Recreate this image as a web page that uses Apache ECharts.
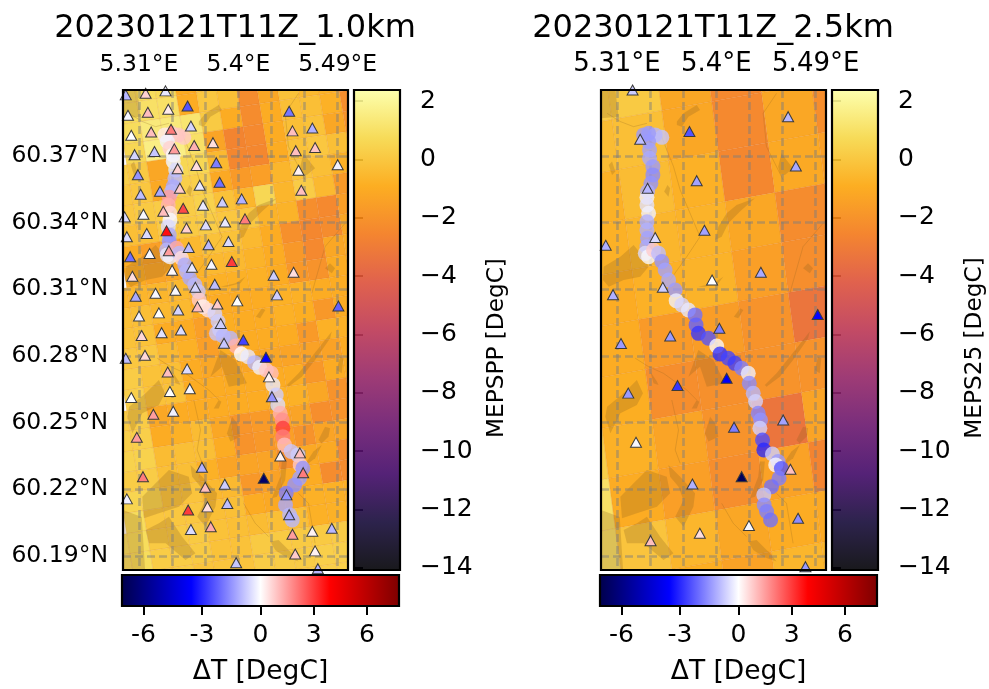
<!DOCTYPE html>
<html><head><meta charset="utf-8">
<style>html,body{margin:0;padding:0;background:#fff}#c{width:989px;height:689px}</style>
<script src="https://cdn.jsdelivr.net/npm/echarts@6/dist/echarts.min.js"></script>
</head><body><div id="c"></div>
<script>
const titles=['20230121T11Z_1.0km','20230121T11Z_2.5km'];
const cbarNames=['MEPSPP [DegC]','MEPS25 [DegC]'];
const deltaName='ΔT [DegC]';
const lonGrid=[5.31,5.34,5.37,5.40,5.43,5.46,5.49];
const lonLabels=[5.31,5.40,5.49];
const latGrid=[60.19,60.22,60.25,60.28,60.31,60.34,60.37];
const tempTicks=[-14,-12,-10,-8,-6,-4,-2,0,2];
const deltaTicks=[-6,-3,0,3,6];
const lonRange=[5.2955,5.4993], latRange=[60.1837,60.3997];
const tempRange=[-14.07,2.38], deltaRange=[-7.1,7.8];

const stLon1=[5.298,5.316,5.334,5.354,5.3365,5.318,5.300,5.446,5.357,5.339,5.321,5.303,5.449,5.467,5.377,5.360,5.342,5.324,5.306,5.452,5.4695,5.380,5.362,5.345,5.309,5.490,5.4545,5.383,5.365,5.347,5.329,5.3115,5.457,5.403,5.3855,5.368,5.350,5.332,5.314,5.297,5.406,5.388,5.3705,5.353,5.335,5.317,5.299,5.391,5.373,5.355,5.337,5.3196,5.302,5.394,5.3756,5.358,5.340,5.304,5.450,5.432,5.3786,5.361,5.343,5.325,5.307,5.435,5.399,5.381,5.363,5.3455,5.328,5.310,5.4906,5.384,5.3124,5.3305,5.348,5.4045,5.387,5.298,5.3154,5.425,5.4277,5.336,5.3536,5.4304,5.338,5.356,5.303,5.341,5.323,5.308,5.438,5.4557,5.367,5.4587,5.3136,5.423,5.3877,5.370,5.299,5.4436,5.390,5.372,5.3545,5.446,5.357,5.375,5.467,5.4846,5.449,5.4695,5.4515,5.398,5.472];
const stLat1=[60.3975,60.3982,60.3993,60.3925,60.391,60.3897,60.3883,60.3901,60.3835,60.382,60.3808,60.3793,60.3813,60.3826,60.376,60.3747,60.3732,60.372,60.3706,60.3724,60.3738,60.367,60.3657,60.3643,60.3616,60.3661,60.3636,60.3582,60.3568,60.3555,60.3541,60.3528,60.3546,60.3507,60.3493,60.3478,60.3465,60.3451,60.3438,60.3426,60.3417,60.3403,60.3390,60.3376,60.3363,60.3351,60.3337,60.3315,60.3301,60.3288,60.3274,60.3261,60.3247,60.3225,60.3213,60.3199,60.3186,60.3159,60.3177,60.3163,60.3123,60.3109,60.3096,60.3082,60.3069,60.3075,60.3048,60.3034,60.3021,60.3007,60.2994,60.298,60.3025,60.2946,60.2892,60.2905,60.2917,60.2872,60.2857,60.2790,60.2803,60.2794,60.2706,60.2728,60.2742,60.2617,60.2640,60.2653,60.2613,60.2551,60.2538,60.2434,60.235,60.2364,60.2299,60.2275,60.2257,60.225,60.2223,60.2209,60.2157,60.2175,60.2136,60.2121,60.2107,60.2086,60.2019,60.2032,60.2011,60.2025,60.1998,60.1923,60.1909,60.187,60.1843];
const stDT1=[-1.0,0.7,-0.3,-2.4,0.3,1.0,-0.1,-1.9,-0.6,2.0,1.0,0.0,1.0,-1.1,0.5,1.2,1.5,-0.8,-0.6,1.0,0.9,-1.8,0.5,0.7,-1.5,-0.2,0.2,-2.0,-0.3,0.8,-1.2,-0.9,1.0,-1.1,-0.7,-0.3,2.8,1.0,-0.1,-0.5,2.0,-0.3,-0.5,0.7,3.7,-0.5,-0.5,-0.5,-1.0,-0.9,1.5,-0.1,-2.0,3.0,-0.1,-0.3,0.1,0.5,0.5,-0.7,-0.9,-0.6,-0.1,-0.1,-1.2,-0.7,0.0,0.8,1.0,-0.6,0.0,-0.2,-2.2,-0.7,0.6,-0.4,-0.5,-2.6,-0.8,-0.9,0.6,-3.5,0.2,1.0,-0.5,-1.5,0.0,-0.1,0.0,-0.2,1.5,1.5,0.2,1.0,-1.1,2.0,2.0,-6.5,-0.7,1.0,-0.2,-1.5,-0.9,0.5,3.0,-1.2,-0.5,1.3,0.2,-1.0,1.5,0.2,0.8,-0.8,-1.0];

const trLon1=[5.3506,5.3455,5.3395,5.3335,5.3356,5.338,5.341,5.341,5.3434,5.3425,5.341,5.3395,5.3374,5.3365,5.338,5.338,5.3365,5.3374,5.3374,5.335,5.3356,5.338,5.344,5.3464,5.3485,5.3515,5.353,5.356,5.3606,5.3636,5.3645,5.368,5.3726,5.3786,5.3816,5.3831,5.3801,5.3862,5.3928,5.3976,5.4027,5.4087,5.4147,5.4193,5.4253,5.4298,5.4313,5.4343,5.4358,5.4379,5.4397,5.4403,5.4403,5.4418,5.4478,5.4539,5.456,5.4584,5.4554,5.4509,5.4433,5.4427,5.4464,5.4488];
const trLat1=[60.3784,60.3795,60.3802,60.3795,60.3765,60.3735,60.3705,60.3675,60.3637,60.36,60.3562,60.354,60.3514,60.3479,60.3442,60.3412,60.3382,60.3345,60.3315,60.3277,60.3255,60.3247,60.3285,60.3262,60.324,60.321,60.318,60.315,60.312,60.309,60.3052,60.3022,60.3007,60.2992,60.2955,60.2917,60.2902,60.289,60.288,60.2845,60.2809,60.2797,60.277,60.2749,60.2737,60.2722,60.267,60.2625,60.258,60.2542,60.2512,60.2475,60.2437,60.24,60.237,60.2355,60.231,60.2295,60.225,60.222,60.2182,60.213,60.2085,60.2062];
const trDT1=[0.8,0.9,0.8,0.3,-0.2,0.7,-0.1,-0.2,-0.5,-1.0,-1.2,-1.0,1.5,1.2,0.5,-0.1,-0.5,-1.2,-1.5,-1.0,-0.3,-0.2,1.3,-1.0,0.5,-1.2,-1.0,-1.2,-1.0,-0.8,0.8,0.2,0.5,-0.6,-0.7,-0.5,-0.8,-1.0,-1.0,1.2,0.0,-0.3,-1.0,-0.2,0.8,1.0,-0.3,-0.7,-0.5,1.2,1.7,3.0,2.0,1.0,-0.8,-0.7,0.8,-1.5,-1.3,-1.5,-1.8,-1.2,-1.0,-1.0];

const stLon2=[5.3241,5.3756,5.465,5.331,5.472,5.3822,5.3377,5.3892,5.3446,5.2998,5.4403,5.3961,5.3515,5.3064,5.4918,5.4027,5.3582,5.3136,5.4093,5.3648,5.3202,5.4605,5.416,5.3272,5.4671,5.4229,5.3783,5.474,5.4295,5.385,5.3404,5.4807];
const stLat2=[60.3997,60.3810,60.3877,60.3775,60.3655,60.3589,60.3555,60.3366,60.3333,60.3298,60.3177,60.3142,60.3109,60.3076,60.2987,60.2925,60.289,60.2856,60.27,60.2667,60.2633,60.2512,60.2479,60.2412,60.229,60.2257,60.2224,60.207,60.2037,60.2002,60.1969,60.1852];
const stDT2=[-0.7,-2.4,-1.0,-0.9,-1.2,-1.3,-1.0,-1.3,-0.5,-1.1,-1.2,0.0,-0.7,-1.1,-3.5,-1.8,-1.4,-1.4,-3.6,-2.8,-1.4,-1.3,-1.8,-0.1,1.0,-6.8,-1.1,-1.6,-0.1,0.5,1.0,-1.4];

const trLon2=[5.3506,5.3446,5.3386,5.3341,5.3386,5.3395,5.3395,5.3425,5.3425,5.3407,5.3377,5.3371,5.3371,5.3386,5.3371,5.3371,5.3377,5.3371,5.3356,5.3386,5.3431,5.3476,5.3506,5.3536,5.3567,5.3627,5.3636,5.3687,5.3747,5.3807,5.3816,5.3837,5.3928,5.4003,5.4033,5.4108,5.4168,5.4229,5.4289,5.4298,5.4334,5.4355,5.4379,5.44,5.4394,5.4418,5.443,5.4508,5.4559,5.4538,5.4589,5.4568,5.4499,5.443,5.4433,5.4455,5.4491];
const trLat2=[60.3784,60.3795,60.3802,60.3795,60.3765,60.3727,60.369,60.3652,60.3615,60.3577,60.354,60.3514,60.3479,60.3442,60.3404,60.3367,60.333,60.3292,60.3262,60.3247,60.3277,60.3262,60.3225,60.3187,60.3142,60.3097,60.3049,60.303,60.3007,60.2985,60.294,60.2902,60.288,60.2845,60.2809,60.279,60.2767,60.2745,60.2722,60.2677,60.2632,60.2595,60.2542,60.2512,60.2475,60.2422,60.2377,60.2359,60.2325,60.231,60.2294,60.225,60.2212,60.2175,60.213,60.21,60.2062];
const trDT2=[-0.8,-1.0,-1.4,-1.4,-1.4,-1.3,-1.2,-1.4,-1.6,-1.5,-1.2,-0.2,-0.4,-0.2,-1.1,-1.1,-1.3,-1.2,-0.5,-0.1,0.8,-0.9,-1.5,-1.3,-1.2,-1.4,-0.2,-0.6,-0.3,-2.0,-2.2,-2.8,-2.4,-0.1,-2.9,-2.6,-2.7,-1.8,-0.2,-1.6,-1.0,-0.6,-1.7,-1.5,-0.6,-2.5,-3.0,-0.7,-1.4,-0.1,-2.4,-1.8,-2.0,-0.8,-1.6,-1.8,-2.0];

// 1 km model field, rows north to south
const cells1=[
[0.9,0.8,0.7,-1,0,-0.3,-2.3,-1.2,-0.2,-0.5,-0.7,-2.2,-1],
[0.8,1.0,1.0,-1,0,-0.3,-2.3,-1.2,-0.2,-0.5,-0.7,-2.2,-1],
[0.8,1.4,1.4,1.2,0.1,-1,-2.3,-1,-0.3,-0.3,-0.8,-2.2,-1],
[0.6,1.6,1.6,1.0,-1.3,-2.6,-2.4,-1,-0.3,-0.2,-1.2,-2,-1],
[0.3,0.1,-1.2,0.6,0.6,-0.5,-2.5,-2.5,-1,-0.2,0,-0.3,-1],
[0,0,-1.1,0.3,0.3,-1.1,-1.7,-1.5,-0.6,-0.1,-0.3,-0.8,-1],
[0,0.1,0.2,0.2,0.4,-0.2,-0.6,0.6,-0.6,0.2,-0.5,-1.7,-1],
[-0.3,-0.3,0.1,0.1,0.2,0,0,-0.7,-0.7,-2.2,-2.4,-1.5,-1],
[-1,-1.5,-1.3,-0.5,-0.2,-0.2,-0.5,-1,-2.1,-2.5,-2.3,-1.2,-1],
[-1,-1.3,-1.2,-0.7,-0.5,-0.5,-0.7,-1,-1.8,-2.4,-1.2,-1,-1],
[-0.6,-0.6,-0.6,-0.5,-0.8,-0.8,-0.8,-0.8,-1,-1.8,-2,-1,-1],
[-0.3,-0.3,-0.5,-0.5,-1,-1,-1,-1,-0.8,-0.8,-1,-1,-1],
[-0.2,-0.2,-1,-1,-1.5,-0.9,-1,-1,-0.8,-0.9,-1.8,-1,-1],
[0,0,-0.5,-0.8,-1.5,-0.9,-1,-1,-1,-1.7,-0.8,-0.8,-1],
[0.2,-0.2,-0.3,-1,-1.2,-1.2,-1.2,-1.2,-1.3,-1.4,-1.4,-1,-1],
[0.3,-0.2,-0.2,-1,-1,-1,-1,-1,-1,-1.8,-1,-1,-1],
[0.2,0.2,-1.2,-1,-1,-1,-1,-1,-0.8,-0.8,-1.2,-2,-2],
[0.3,0.3,-1,-0.8,-0.4,-1.2,-1.9,-1.7,-1.3,-1.3,-2.2,-2,-2],
[0.4,0.4,-0.4,-0.3,-0.3,-1,-2,-1.8,-1.5,-2,-1.3,-1.3,-1.3],
[0.2,0.2,-0.3,-0.3,-0.8,-1.3,-1.3,-1.3,-2.2,-1.1,-1.1,-2.3,-2.3],
[0.5,0.5,-0.1,-0.1,-0.5,-0.5,-1.8,-1.4,-1.1,-1,-2.3,-2.3,-2],
[0.8,0,0,0,-0.3,-0.3,-1,-1.1,-1.1,-0.8,-0.8,-0.8,-0.8],
[1.0,0.8,0.1,0.1,0.1,-0.2,-0.3,-0.4,-0.3,-0.3,-0.8,-0.8,-0.8],
[1.0,0.8,0.2,0.2,0.1,-0.2,-0.2,0.1,0.1,0.1,0.1,0.2,0.2],
[1.0,1.0,0.2,0.2,-0.1,-0.1,-0.1,0.2,0.2,0.2,0.3,0.3,0.3],
[1.0,1.0,0.2,0.2,-0.1,-0.1,-0.1,0.2,0.2,0.2,0.3,0.3,0.3],
[1.0,1.0,0.2,0.2,-0.1,-0.1,-0.1,0.2,0.2,0.2,0.3,0.3,0.3]];
// 2.5 km model field
const cells2=[
[0.3,0.2,0.1,-1.2,-2.4,-1.2,-2.2],
[-0.5,-0.4,-0.3,-1.2,-2.4,-1.2,-2.2],
[-0.8,-0.8,-0.4,-0.8,-2.5,-1.1,-1.5],
[-0.6,-0.8,-0.6,-0.7,-1.2,-2.3,-2.3],
[-0.5,-1,-0.8,-0.7,-1.5,-2.2,-2.3],
[-0.5,-1,-1.7,-1.6,-2,-3.3,-2.5],
[-0.5,-0.9,-2.2,-2.1,-2,-2,-2],
[0.3,-0.8,-1.3,-2.0,-3.3,-1.3,-1.3],
[1.0,-1.0,-1.5,-2.2,-1.4,-2.6,-2],
[1.1,-0.1,-0.6,-1.2,-1.0,-1.1,-1],
[1.1,-0.1,-0.9,-1.4,-0.6,-0.6,-0.6]];
// model grid geometry in degrees: anchor corner, east step, south step
const mesh1={lon0:5.4012,lat0:60.3922,iLon:0.01806,iLat:0.00135,jLon:0.00301,jLat:-0.009};
const mesh2={lon0:5.4018,lat0:60.372,iLon:0.04515,iLat:0.00405,jLon:0.00602,jLat:-0.0225};

const lakes=[
[5.3642,60.3855,5.3702,60.3892,5.3822,60.393,5.3852,60.3907,5.3747,60.3877,5.3687,60.3832,5.3642,60.3840],
[5.456,60.3652,5.459,60.3712,5.4635,60.3682,5.4695,60.3645,5.462,60.3615,5.4575,60.3622],
[5.3988,60.3322,5.4018,60.3382,5.4093,60.3442,5.4183,60.3480,5.4349,60.351,5.4214,60.345,5.4108,60.3397,5.4048,60.3337],
[5.4785,60.3195,5.483,60.3217,5.4876,60.3195,5.4846,60.3172],
[5.2979,60.3202,5.313,60.3247,5.325,60.33,5.334,60.3247,5.3386,60.3202,5.331,60.3157,5.316,60.3142,5.3025,60.3112,5.2973,60.3142],
[5.3837,60.3112,5.3973,60.3127,5.4063,60.3157,5.4018,60.3127,5.3897,60.3112],
[5.4159,60.2977,5.4214,60.3015,5.4244,60.3007,5.4198,60.297],
[5.3527,60.3540,5.3557,60.357,5.3581,60.3555,5.3566,60.3517],
[5.3025,60.3660,5.3055,60.3675,5.3085,60.363,5.3055,60.3615],
[5.2955,60.3997,5.3085,60.3997,5.3115,60.3877,5.2955,60.387],
[5.2955,60.2107,5.3125,60.2075,5.3155,60.1837,5.2955,60.1837],
[5.313,60.2167,5.325,60.2227,5.3371,60.2287,5.3551,60.2257,5.3581,60.2182,5.3461,60.2122,5.328,60.2092,5.3145,60.207],
[5.316,60.2017,5.328,60.2047,5.3371,60.2077,5.3491,60.1987,5.3611,60.1912,5.3521,60.1882,5.3341,60.1957,5.319,60.1957],
[5.3566,60.2310,5.3672,60.2257,5.3807,60.2182,5.3792,60.2122,5.3702,60.2032,5.3627,60.2077,5.3702,60.2152,5.3657,60.2212,5.3581,60.2257],
[5.3010,60.2572,5.316,60.2632,5.328,60.2692,5.3335,60.2632,5.328,60.258,5.313,60.2542,5.304,60.2452,5.2994,60.2527],
[5.3837,60.2827,5.3973,60.2782,5.4078,60.2677,5.3913,60.2662,5.3852,60.2752,5.3747,60.2707,5.3792,60.2767],
[5.3943,60.2527,5.3988,60.2497,5.4018,60.2437,5.3928,60.2415,5.3897,60.2452],
[5.4439,60.2669,5.4545,60.2722,5.4665,60.2797,5.4846,60.2910,5.4831,60.288,5.4695,60.2782,5.4575,60.2707,5.4454,60.2662],
[5.4725,60.2422,5.4785,60.2482,5.4831,60.2475,5.4816,60.2437,5.4755,60.2407],
[5.4304,60.2160,5.4379,60.2257,5.4394,60.2325,5.4439,60.2325,5.4424,60.2242,5.4349,60.2167],
[5.462,60.2325,5.468,60.237,5.4755,60.24,5.4695,60.234,5.4635,60.2317],
[5.4891,60.2737,5.4921,60.2797,5.4951,60.2790,5.4936,60.2722],
[5.4289,60.1965,5.4364,60.1972,5.4485,60.1912,5.4545,60.1875,5.4424,60.1897,5.4334,60.1927],
[5.3401,60.273,5.3461,60.2685,5.3476,60.2669,5.3431,60.2677],
[5.3777,60.2564,5.3822,60.2602,5.3846,60.2594,5.3822,60.2564]];
const roads=[
[5.3265,60.2790,5.3386,60.2752,5.3521,60.2722,5.3732,60.2647,5.3822,60.2602],
[5.3596,60.2602,5.3657,60.2467,5.3627,60.2377,5.3672,60.2317],
[5.4048,60.2137,5.4153,60.2047,5.4274,60.1987],
[5.3371,60.3847,5.3250,60.3832,5.3130,60.3855,5.3010,60.3892],
[5.3491,60.3802,5.3612,60.3652,5.3672,60.3547,5.3762,60.3442,5.3852,60.3337,5.3732,60.3247,5.3581,60.3142],
[5.4605,60.3592,5.4454,60.3742,5.4424,60.3892,5.4545,60.3982],
[5.4665,60.3082,5.4785,60.3292,5.4966,60.3397],
[5.4695,60.1957,5.4635,60.2137,5.4545,60.2182]];

const FONT='"DejaVu Sans"';
const inferno=['#000004','#160b39','#420a68','#6a176e','#932667','#bc3754','#dd513a','#f37819','#fca50a','#f6d746','#fcffa4'];
const seismic=['#00004c','#0000ff','#ffffff','#ff0000','#7f0000'];
const hex=h=>[1,3,5].map(k=>parseInt(h.substr(k,2),16));
function ramp(list,t){t=Math.max(0,Math.min(1,t));const p=t*(list.length-1),k=Math.min(Math.floor(p),list.length-2),f=p-k;
  const a=hex(list[k]),b=hex(list[k+1]);return a.map((x,n)=>Math.round(x+(b[n]-x)*f));}
const tempColor=v=>{const c=ramp(inferno,(v-tempRange[0])/(tempRange[1]-tempRange[0]));return `rgba(${c[0]},${c[1]},${c[2]},0.9)`;};
const normDelta=v=>v<0?0.5*(v-deltaRange[0])/(-deltaRange[0]):0.5+0.5*v/deltaRange[1];
const deltaColor=v=>{const c=ramp(seismic,normDelta(v));return `rgb(${c[0]},${c[1]},${c[2]})`;};
const minus=v=>String(v).replace('-','\u2212');

const GRIDS=[
 {left:123,top:90,width:225,height:480},{left:601,top:90,width:225,height:480},
 {left:354,top:90,width:46,height:480},{left:832,top:90,width:46,height:480},
 {left:122,top:575,width:277,height:31},{left:600,top:575,width:277,height:31}];

const frameSeries=g=>({type:'custom',xAxisIndex:g,yAxisIndex:g,z:10,silent:true,clip:false,data:[[0,0]],
  renderItem:(p,api)=>({type:'rect',shape:{x:p.coordSys.x,y:p.coordSys.y,width:p.coordSys.width,height:p.coordSys.height},
    style:{fill:'none',stroke:'#000',lineWidth:2.2}})});
function cellSeries(g,mesh,rows){
  const data=[];rows.forEach((r,n)=>r.forEach((v,c)=>data.push([n,c,v])));
  const first=g===0?(j=>-7-Math.floor((j-2)/6)):(()=>-4);
  const j0=-2;
  return {type:'custom',xAxisIndex:g,yAxisIndex:g,z:0,silent:true,clip:true,data,encode:{x:[],y:[]},
    renderItem:(p,api)=>{
      const n=api.value(0),c=api.value(1),v=api.value(2),j=n+j0,i=first(j)+c;
      const pt=(a,b)=>api.coord([mesh.lon0+a*mesh.iLon+b*mesh.jLon,mesh.lat0+a*mesh.iLat+b*mesh.jLat]);
      const col=tempColor(v);
      return {type:'polygon',shape:{points:[pt(i,j),pt(i+1,j),pt(i+1,j+1),pt(i,j+1)]},style:{fill:col,stroke:'rgba(200,90,30,0.18)',lineWidth:0.6}};
    }};
}
const lakeSeries=g=>({type:'custom',xAxisIndex:g,yAxisIndex:g,z:0.5,silent:true,clip:true,data:lakes.map((l,k)=>[k,0]),encode:{x:[],y:[]},
  renderItem:(p,api)=>{const l=lakes[api.value(0)],pts=[];for(let k=0;k<l.length;k+=2)pts.push(api.coord([l[k],l[k+1]]));
    return {type:'polygon',shape:{points:pts},style:{fill:'rgba(140,95,30,0.26)'}};}});
const roadSeries=g=>({type:'custom',xAxisIndex:g,yAxisIndex:g,z:0.6,silent:true,clip:true,data:roads.map((l,k)=>[k,0]),encode:{x:[],y:[]},
  renderItem:(p,api)=>{const l=roads[api.value(0)],pts=[];for(let k=0;k<l.length;k+=2)pts.push(api.coord([l[k],l[k+1]]));
    return {type:'polyline',shape:{points:pts},style:{fill:'none',stroke:'rgba(140,95,30,0.3)',lineWidth:0.8}};}});
const trackSeries=(g,lon,lat,dt)=>({type:'scatter',xAxisIndex:g,yAxisIndex:g,z:3,silent:true,symbol:'circle',symbolSize:15,
  data:lon.map((x,k)=>[x,lat[k],dt[k]]),itemStyle:{opacity:0.78,color:p=>deltaColor(p.value[2])}});
const stationSeries=(g,lon,lat,dt)=>({type:'scatter',xAxisIndex:g,yAxisIndex:g,z:4,silent:true,symbol:'triangle',symbolSize:[11,10],
  data:lon.map((x,k)=>[x,lat[k],dt[k]]),itemStyle:{opacity:1,color:p=>deltaColor(p.value[2]),borderColor:'#3a3a3a',borderWidth:1}});
const tempBar=g=>({type:'custom',xAxisIndex:g,yAxisIndex:g,z:1,silent:true,data:[[0,tempRange[0]]],encode:{x:[],y:[]},
  renderItem:(p,api)=>{const a=api.coord([0,tempRange[1]]),b=api.coord([1,tempRange[0]]);
    return {type:'rect',shape:{x:a[0],y:a[1],width:b[0]-a[0],height:b[1]-a[1]},
      style:{fill:new echarts.graphic.LinearGradient(0,1,0,0,inferno.map((c,k)=>({offset:k/(inferno.length-1),color:(h=>`rgba(${h[0]},${h[1]},${h[2]},0.9)`)(hex(c))})))}};}});
const deltaBar=g=>({type:'custom',xAxisIndex:g,yAxisIndex:g,z:1,silent:true,data:[[0,0]],encode:{x:[],y:[]},
  renderItem:(p,api)=>{const a=api.coord([0,1]),b=api.coord([1,0]);
    return {type:'rect',shape:{x:a[0],y:a[1],width:b[0]-a[0],height:b[1]-a[1]},
      style:{fill:new echarts.graphic.LinearGradient(0,0,1,0,seismic.map((c,k)=>({offset:k/(seismic.length-1),color:c})))}};}});

const label={fontFamily:FONT,fontSize:23.5,color:'#000'};
const barLabel={fontFamily:FONT,fontSize:25,color:'#000'};
const nameStyle={fontFamily:FONT,fontSize:23.2,color:'#000'};
const hiddenAxis=(idx,range)=>({type:'value',gridIndex:idx,min:range[0],max:range[1],show:false,splitLine:{show:false}});
const gridLine={show:true,lineStyle:{color:'rgba(125,125,125,0.5)',width:2.6,type:[8,4]}};
const xAxis=[0,1].map(g=>({type:'value',gridIndex:g,position:'top',min:lonRange[0],max:lonRange[1],z:1,
    axisLine:{show:false},axisTick:{show:false,customValues:lonGrid},splitLine:gridLine,
    axisLabel:{...label,fontSize:g===1?26:23.5,margin:13,customValues:lonLabels,formatter:v=>{const s=String(Math.round(v*100)/100);return s+'°E';}}}))
  .concat([hiddenAxis(2,[0,1]),hiddenAxis(3,[0,1])])
  .concat([4,5].map(g=>({type:'value',gridIndex:g,position:'bottom',min:0,max:1,nameLocation:'middle',name:deltaName,nameGap:53,nameTextStyle:{...nameStyle,fontSize:26.5},
    axisLine:{show:false},splitLine:{show:false},
    axisTick:{show:true,length:9,customValues:deltaTicks.map(normDelta),lineStyle:{color:'#000',width:2}},
    axisLabel:{...barLabel,margin:17,customValues:deltaTicks.map(normDelta),formatter:(v)=>{let b=deltaTicks[0];deltaTicks.forEach(t=>{if(Math.abs(normDelta(t)-v)<Math.abs(normDelta(b)-v))b=t;});return String(b);}}})));
const yAxis=[0,1].map(g=>({type:'value',gridIndex:g,position:'left',min:latRange[0],max:latRange[1],z:1,
    axisLine:{show:false},axisTick:{show:false,customValues:latGrid},splitLine:gridLine,
    axisLabel:{...label,show:g===0,margin:15,padding:[0,0,5,0],customValues:latGrid,formatter:v=>v.toFixed(2)+'°N'}}))
  .concat([2,3].map(g=>({type:'value',gridIndex:g,position:'right',min:tempRange[0],max:tempRange[1],
    name:cbarNames[g-2],nameLocation:'middle',nameRotate:90,nameGap:85,nameTextStyle:{...nameStyle,padding:[0,36,0,0]},
    axisLine:{show:false},splitLine:{show:false},
    axisTick:{show:true,length:9,customValues:tempTicks,lineStyle:{color:'#000',width:2}},
    axisLabel:{...barLabel,margin:20,padding:[12,0,0,0],customValues:tempTicks,formatter:v=>minus(Math.round(v))}})))
  .concat([hiddenAxis(4,[0,1]),hiddenAxis(5,[0,1])]);

const chart=echarts.init(document.getElementById('c'),null,{renderer:'canvas'});
chart.setOption({
  animation:false,backgroundColor:'#fff',
  title:[{text:titles[0],left:230,top:8,textAlign:'center',textStyle:{fontFamily:FONT,fontSize:32,fontWeight:'normal',color:'#000'}},
         {text:titles[1],left:708,top:8,textAlign:'center',textStyle:{fontFamily:FONT,fontSize:32,fontWeight:'normal',color:'#000'}}],
  grid:GRIDS.map(g=>({...g,containLabel:false})),
  xAxis,yAxis,
  series:[
    cellSeries(0,mesh1,cells1),cellSeries(1,mesh2,cells2),lakeSeries(0),lakeSeries(1),roadSeries(0),roadSeries(1),
    trackSeries(0,trLon1,trLat1,trDT1),trackSeries(1,trLon2,trLat2,trDT2),
    stationSeries(0,stLon1,stLat1,stDT1),stationSeries(1,stLon2,stLat2,stDT2),
    tempBar(2),tempBar(3),deltaBar(4),deltaBar(5),
    frameSeries(0),frameSeries(1),frameSeries(2),frameSeries(3),frameSeries(4),frameSeries(5)]
});
</script></body></html>
